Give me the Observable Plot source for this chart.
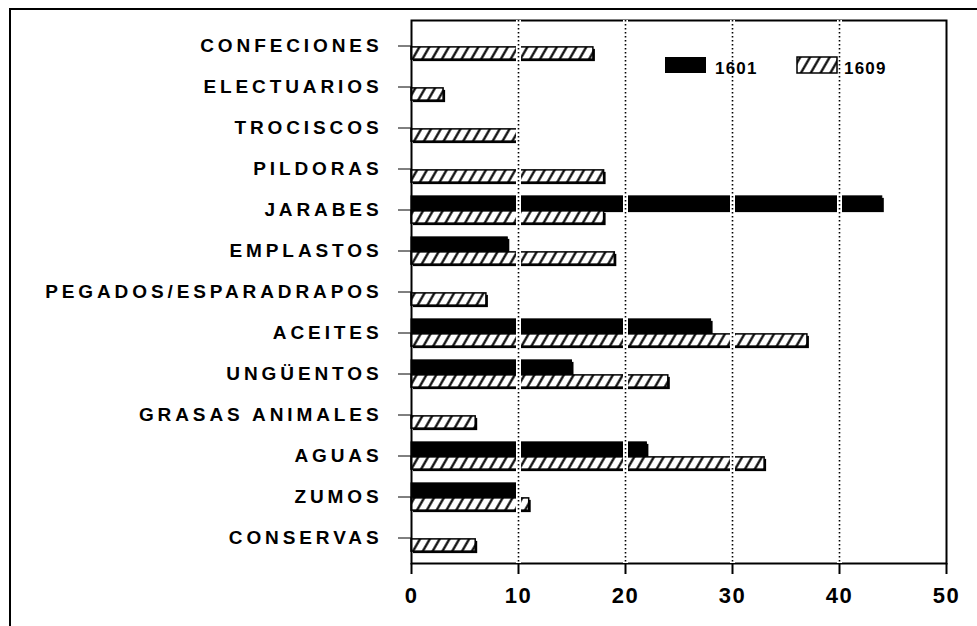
<!DOCTYPE html>
<html><head><meta charset="utf-8">
<script src="https://cdn.jsdelivr.net/npm/d3@7"></script>
<script src="https://cdn.jsdelivr.net/npm/@observablehq/plot@0.6"></script>
<style>
body{margin:0;background:#fff;}
#wrap{position:relative;width:977px;height:626px;overflow:hidden;font-family:"Liberation Sans",Arial,Helvetica,sans-serif;}
#outer{position:absolute;left:9px;top:8px;width:990px;height:640px;border-top:2px solid #000;border-left:2px solid #000;pointer-events:none;}
#chart{position:absolute;left:0;top:0;}
g[aria-label="y-axis tick label"]{font-size:19px !important;font-weight:bold;}
g[aria-label="y-axis tick label"] text{letter-spacing:3.9px;}
g[aria-label="x-axis tick label"]{font-size:22px !important;font-weight:bold;}
g[aria-label="x-axis tick label"] text{letter-spacing:1.5px;}
.sw{position:absolute;}
.lt{position:absolute;font-weight:bold;font-size:17px;letter-spacing:1.2px;line-height:18px;}
</style>
</head><body>
<div id="wrap"><div id="chart"></div><div id="outer"></div>
<svg class="sw" style="left:664px;top:56px" width="44" height="19"><rect x="1" y="1" width="41" height="16" fill="#000"/></svg>
<div class="lt" style="left:715px;top:60px">1601</div>
<svg class="sw" style="left:796px;top:56px" width="44" height="19"><rect x="1" y="1" width="40" height="16" fill="url(#hatch)" stroke="#000" stroke-width="1.5"/></svg>
<div class="lt" style="left:844px;top:60px">1609</div>
</div>
<script>
const categories = ["CONFECIONES","ELECTUARIOS","TROCISCOS","PILDORAS","JARABES","EMPLASTOS","PEGADOS/ESPARADRAPOS","ACEITES","UNGÜENTOS","GRASAS ANIMALES","AGUAS","ZUMOS","CONSERVAS"];
const values1601 = [0,0,0,0,44,9,0,28,15,0,22,10,0];
const values1609 = [17,3,10,18,18,19,7,37,24,6,33,11,6];
const xTicks = [0,10,20,30,40,50];
const gridTicks = [10,20,30,40];

const W = 977, H = 626, mt = 20, mb = 63, ml = 411, mr = 31;
const B = (H - mt - mb) / categories.length;
const rows1601 = categories.map((c,i)=>({cat:c, v:values1601[i]})).filter(d=>d.v>0);
const rows1609 = categories.map((c,i)=>({cat:c, v:values1609[i]})).filter(d=>d.v>0);
const font = '"Liberation Sans",Arial,Helvetica,sans-serif';
const i1601 = {insetTop: B/2 - 14, insetBottom: B/2 - 1};
const i1609 = {insetTop: B/2 + 1, insetBottom: B/2 - 14};

const plot = Plot.plot({
  width: W, height: H,
  marginTop: mt, marginBottom: mb, marginLeft: ml, marginRight: mr,
  style: {fontFamily: font, background: "transparent", color: "#000"},
  x: {domain: [0, 50]},
  y: {domain: categories, padding: 0},
  marks: [
    Plot.barX(rows1601, {x: "v", y: "cat", ...i1601, fill: "#000", dx: 2, dy: 2}),
    Plot.barX(rows1609, {x: "v", y: "cat", ...i1609, fill: "#000", dx: 2, dy: 2}),
    Plot.barX(rows1601, {x: "v", y: "cat", ...i1601, fill: "#000", stroke: "#000", strokeWidth: 1}),
    Plot.barX(rows1609, {x: "v", y: "cat", ...i1609, fill: "url(#hatch)", stroke: "#000", strokeWidth: 1.5}),
    Plot.frame({stroke: "#000", strokeWidth: 2}),
    Plot.ruleX(gridTicks, {stroke: "#fff", strokeWidth: 5}),
    Plot.ruleX(gridTicks, {stroke: "#000", strokeWidth: 1.6, strokeDasharray: "1.6,2.4"}),
    Plot.axisX(xTicks, {tickSize: 11, tickPadding: 13, fontSize: 22, fontWeight: "bold", strokeWidth: 2, label: null}),
    Plot.axisY({tickSize: 13, tickPadding: 16, fontSize: 19, fontWeight: "bold", label: null})
  ]
});
const defs = d3.select(plot).insert("defs", ":first-child");
const pat = defs.append("pattern").attr("id", "hatch").attr("patternUnits", "userSpaceOnUse")
  .attr("width", 8.5).attr("height", 8.5).attr("patternTransform", "rotate(30)");
pat.append("rect").attr("width", 8.5).attr("height", 8.5).attr("fill", "#fff");
pat.append("line").attr("x1", 4.25).attr("y1", -1).attr("x2", 4.25).attr("y2", 9.5)
  .attr("stroke", "#000").attr("stroke-width", 2.2);
document.getElementById("chart").appendChild(plot);
</script>
</body></html>
